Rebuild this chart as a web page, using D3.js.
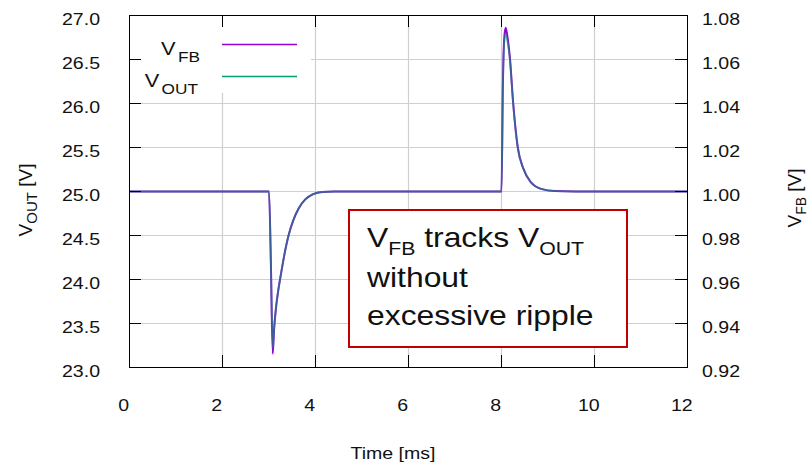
<!DOCTYPE html>
<html>
<head>
<meta charset="utf-8">
<script src="https://cdn.jsdelivr.net/npm/d3@7"></script>
<style>
  body { margin: 0; background: #fff; }
  svg { display: block; font-family: "Liberation Sans", Arial, sans-serif; }
</style>
</head>
<body>
<div id="chart-area"></div>
<script>
// Time samples [ms]
var timeMs = [0, 3.00, 3.04, 3.08, 3.11, 3.15, 3.20, 3.26, 3.33, 3.42, 3.52, 3.64, 3.78, 3.95, 4.15, 4.40,
  8.00, 8.03, 8.06, 8.09, 8.13, 8.18, 8.25, 8.35, 8.47, 8.64, 8.85, 9.15, 9.60, 12];

// Output voltage [V] (left axis)
var vOut = [25.00, 25.00, 24.20, 23.22, 23.45, 23.68, 23.88, 24.07, 24.28, 24.50, 24.67, 24.81, 24.91, 24.97, 24.995, 25.00,
  25.00, 26.20, 26.70, 26.79, 26.70, 26.50, 26.00, 25.50, 25.26, 25.10, 25.03, 25.005, 25.00, 25.00];

// Feedback voltage [V] (right axis)
var vFb = [1.0000, 1.0000, 0.9680, 0.9262, 0.9375, 0.9470, 0.9552, 0.9628, 0.9712, 0.9800, 0.9868, 0.9924, 0.9964, 0.9988, 0.9998, 1.0000,
  1.0000, 1.0490, 1.0700, 1.0744, 1.0700, 1.0610, 1.0405, 1.0200, 1.0104, 1.0040, 1.0012, 1.0002, 1.0000, 1.0000];

var xTicks = [0, 2, 4, 6, 8, 10, 12];
var yLeftTicks = [23.0, 23.5, 24.0, 24.5, 25.0, 25.5, 26.0, 26.5, 27.0];
var yRightTicks = [0.92, 0.94, 0.96, 0.98, 1.00, 1.02, 1.04, 1.06, 1.08];

var noteLines = ["without", "excessive ripple"];

var colFb = "#9400d3";
var colOut = "#009e73";

var width = 812, height = 465;
var plot = { left: 129, right: 687, top: 15, bottom: 367 };
var textStretch = 1.15;

// widen horizontal text a bit, keeping its anchor where it is
function stretch(sel, s) {
  s = s || textStretch;
  sel.each(function () {
    var t = d3.select(this);
    var x = +t.attr("x") || 0;
    t.attr("transform", "translate(" + (x * (1 - s)) + ",0) scale(" + s + ",1)");
  });
}

var svg = d3.select("#chart-area")
  .append("svg")
  .attr("width", width)
  .attr("height", height);

/* Scales */
var x = d3.scaleLinear().domain([0, 12]).range([plot.left, plot.right]);
var yL = d3.scaleLinear().domain([23, 27]).range([plot.bottom, plot.top]);
var yR = d3.scaleLinear().domain([0.92, 1.08]).range([plot.bottom, plot.top]);

/* Grid */
var grid = svg.append("g").attr("class", "grid")
  .attr("stroke", "#cfcfcf").attr("stroke-width", 1.2);

grid.selectAll("line.gx").data(xTicks.slice(1, -1)).enter()
  .append("line")
  .attr("x1", d => x(d) + 0.5).attr("x2", d => x(d) + 0.5)
  .attr("y1", plot.top).attr("y2", plot.bottom);

grid.selectAll("line.gy").data(yLeftTicks.slice(1, -1)).enter()
  .append("line")
  .attr("y1", d => yL(d) + 0.5).attr("y2", d => yL(d) + 0.5)
  .attr("x1", plot.left).attr("x2", plot.right);

/* Traces */
svg.append("clipPath").attr("id", "plot-clip")
  .append("rect")
  .attr("x", plot.left).attr("y", plot.top)
  .attr("width", plot.right - plot.left).attr("height", plot.bottom - plot.top + 1);

var lineFb = d3.line()
  .x((d, i) => x(timeMs[i]) + 0.5)
  .y(d => yR(d) + 0.5)
  .curve(d3.curveMonotoneX);

var lineOut = d3.line()
  .x((d, i) => x(timeMs[i]) + 0.5)
  .y(d => yL(d) + 0.5)
  .curve(d3.curveMonotoneX);

var traces = svg.append("g").attr("clip-path", "url(#plot-clip)");

traces.append("path")
  .attr("d", lineFb(vFb))
  .attr("fill", "none")
  .attr("stroke", colFb)
  .attr("stroke-width", 2);

traces.append("path")
  .attr("d", lineOut(vOut))
  .attr("fill", "none")
  .attr("stroke", colOut)
  .attr("stroke-width", 1.8)
  .attr("stroke-opacity", 0.6);

/* Legend */
var legend = svg.append("g").attr("class", "legend");
legend.append("rect")
  .attr("x", 130).attr("y", 16).attr("width", 181).attr("height", 77)
  .attr("fill", "#fff");

var legendItems = [
  { name: "FB", color: colFb, ty: 55, ly: 44.5, tx: 200 },
  { name: "OUT", color: colOut, ty: 87, ly: 76.5, tx: 198 }
];

legendItems.forEach(function (it) {
  var t = legend.append("text")
    .attr("x", it.tx).attr("y", it.ty)
    .attr("text-anchor", "end")
    .attr("fill", "#111");
  t.append("tspan").attr("font-size", 19).text("V");
  t.append("tspan").attr("font-size", 15).attr("dx", 2).attr("dy", 7).text(it.name);
  stretch(t);

  legend.append("line")
    .attr("x1", 222).attr("x2", 297)
    .attr("y1", it.ly).attr("y2", it.ly)
    .attr("stroke", it.color)
    .attr("stroke-width", 1.5);
});

/* Annotation box */
var note = svg.append("g").attr("class", "note");
note.append("rect")
  .attr("x", 349).attr("y", 210).attr("width", 278).attr("height", 137)
  .attr("fill", "#fff")
  .attr("stroke", "#c00000")
  .attr("stroke-width", 2);

var first = note.append("text").attr("x", 367).attr("y", 247).attr("fill", "#111");
first.append("tspan").attr("font-size", 27).text("V");
first.append("tspan").attr("font-size", 18).attr("dy", 8).text("FB");
first.append("tspan").attr("font-size", 27).attr("dy", -8).text(" tracks V");
first.append("tspan").attr("font-size", 18).attr("dy", 8).text("OUT");
stretch(first, 1.18);

note.selectAll("text.rest").data(noteLines).enter()
  .append("text")
  .attr("class", "rest")
  .attr("x", 367)
  .attr("y", (d, i) => 287 + i * 38)
  .attr("font-size", 27)
  .attr("fill", "#111")
  .text(d => d)
  .call(stretch, 1.18);

/* Axes */
function styleAxis(g) {
  g.attr("font-size", null).attr("font-family", null);
  g.select(".domain").remove();
  g.selectAll(".tick line").attr("stroke", "#000");
  g.selectAll(".tick text").attr("fill", "#111").style("font-size", "17px");
}

var xAxisGroup = svg.append("g")
  .attr("transform", "translate(0," + plot.bottom + ")")
  .call(d3.axisBottom(x).tickValues(xTicks).tickSizeInner(-12).tickSizeOuter(0)
    .tickPadding(32).tickFormat(d3.format("d")))
  .call(styleAxis);
xAxisGroup.selectAll(".tick text").attr("dx", -5).call(stretch);

svg.append("g")
  .attr("transform", "translate(0," + plot.top + ")")
  .call(d3.axisTop(x).tickValues(xTicks).tickSizeInner(-12).tickSizeOuter(0).tickFormat(""))
  .call(styleAxis);

var yAxisGroup = svg.append("g")
  .attr("transform", "translate(" + plot.left + ",0)")
  .call(d3.axisLeft(yL).tickValues(yLeftTicks).tickSizeInner(-12).tickSizeOuter(0)
    .tickPadding(29).tickFormat(d3.format(".1f")))
  .call(styleAxis);
yAxisGroup.selectAll(".tick text").attr("dy", "0.58em").call(stretch);

var yAxisRightGroup = svg.append("g")
  .attr("transform", "translate(" + plot.right + ",0)")
  .call(d3.axisRight(yR).tickValues(yRightTicks).tickSizeInner(-12).tickSizeOuter(0)
    .tickPadding(15).tickFormat(d3.format(".2f")))
  .call(styleAxis);
yAxisRightGroup.selectAll(".tick text").attr("dy", "0.58em").call(stretch);

/* Frame */
svg.append("rect")
  .attr("x", plot.left + 0.5).attr("y", plot.top + 0.5)
  .attr("width", plot.right - plot.left).attr("height", plot.bottom - plot.top)
  .attr("fill", "none")
  .attr("stroke", "#000")
  .attr("stroke-width", 1);

/* Axis titles */
svg.append("text")
  .attr("x", 393).attr("y", 459)
  .attr("text-anchor", "middle")
  .attr("font-size", 17)
  .attr("fill", "#111")
  .text("Time [ms]")
  .call(stretch);

function axisTitle(cx, cy, sub, subSize) {
  var t = svg.append("text")
    .attr("transform", "translate(" + cx + "," + cy + ") rotate(-90)")
    .attr("text-anchor", "middle")
    .attr("fill", "#111");
  t.append("tspan").attr("font-size", 19).text("V");
  t.append("tspan").attr("font-size", subSize).attr("dy", 5).text(sub);
  t.append("tspan").attr("font-size", 19).attr("dy", -5).text(" [V]");
}
axisTitle(32, 200, "OUT", 15);
axisTitle(801, 198, "FB", 14);
</script>
</body>
</html>
